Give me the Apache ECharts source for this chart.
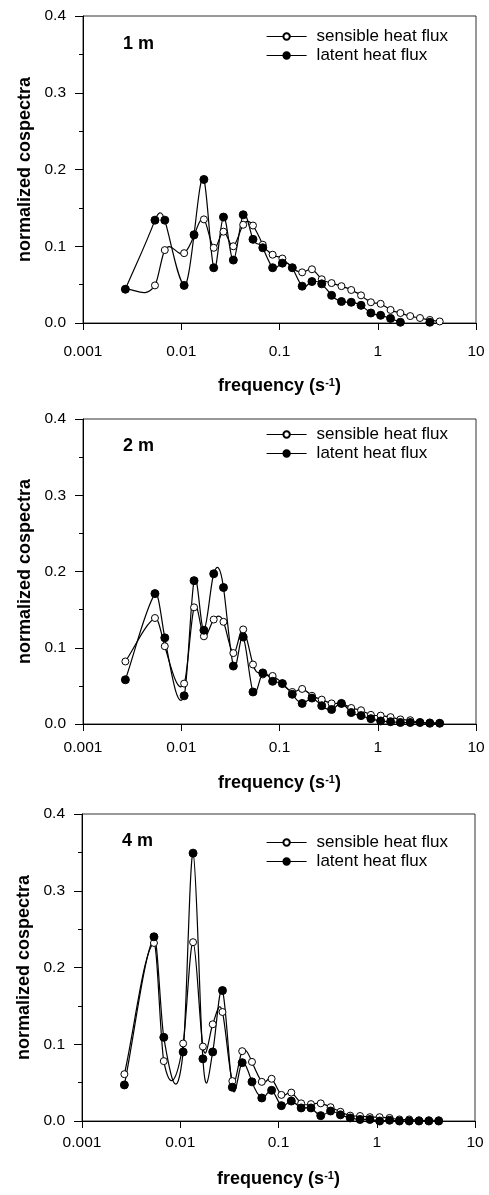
<!DOCTYPE html>
<html>
<head>
<meta charset="utf-8">
<script src="https://cdn.jsdelivr.net/npm/echarts@6/dist/echarts.min.js"></script>
<style>
html,body{margin:0;padding:0;background:#fff;}
#main{width:489px;height:1195px;}
</style>
</head>
<body>
<div id="main"></div>
<script>
// frequencies (s^-1), shared by all panels
var freq = [0.0027, 0.0054, 0.0068, 0.0107, 0.0135, 0.0170, 0.0214, 0.0269, 0.0339, 0.0427,
            0.0537, 0.0676, 0.0851, 0.107, 0.135, 0.170, 0.214, 0.269, 0.339, 0.427,
            0.537, 0.676, 0.851, 1.07, 1.35, 1.70, 2.14, 2.69, 3.39, 4.27];

// 1 m
var sensible1m = [0.044, 0.049, 0.095, 0.091, 0.114, 0.135, 0.098, 0.119, 0.100, 0.128,
                  0.127, 0.102, 0.089, 0.084, 0.072, 0.066, 0.070, 0.057, 0.052, 0.048,
                  0.043, 0.036, 0.027, 0.025, 0.017, 0.013, 0.009, 0.0065, 0.004, 0.002];
var latent1m   = [0.044, 0.134, 0.134, 0.049, 0.115, 0.187, 0.072, 0.138, 0.082, 0.141,
                  0.109, 0.098, 0.072, 0.078, 0.072, 0.048, 0.054, 0.051, 0.036, 0.028,
                  0.027, 0.023, 0.013, 0.010, 0.006, 0.001, -0.002, -0.002, 0.001, null];
// 2 m
var sensible2m = [0.082, 0.139, 0.102, 0.053, 0.153, 0.115, 0.137, 0.134, 0.093, 0.124,
                  0.078, 0.065, 0.063, 0.053, 0.042, 0.046, 0.037, 0.032, 0.027, 0.027,
                  0.021, 0.018, 0.012, 0.011, 0.009, 0.006, 0.005, 0.002, 0.002, 0.001];
var latent2m   = [0.058, 0.171, 0.113, 0.037, 0.188, 0.123, 0.197, 0.179, 0.076, 0.114,
                  0.042, 0.067, 0.056, 0.053, 0.039, 0.027, 0.034, 0.024, 0.019, 0.027,
                  0.015, 0.011, 0.007, 0.004, 0.003, 0.002, 0.002, 0.002, 0.001, 0.001];
// 4 m
var sensible4m = [0.061, 0.232, 0.078, 0.101, 0.233, 0.097, 0.126, 0.142, 0.052, 0.091,
                  0.077, 0.051, 0.055, 0.034, 0.037, 0.023, 0.022, 0.023, 0.018, 0.012,
                  0.007, 0.0065, 0.005, 0.005, 0.004, 0.002, 0.002, 0.001, 0.001, 0.001];
var latent4m   = [0.047, 0.240, 0.109, 0.090, 0.349, 0.081, 0.090, 0.170, 0.044, 0.076,
                  0.051, 0.030, 0.040, 0.020, 0.026, 0.017, 0.017, 0.007, 0.013, 0.008,
                  0.004, 0.002, 0.002, 0.000, 0.001, 0.000, 0.000, 0.000, 0.000, 0.000];

var xTickLabels = ['0.001', '0.01', '0.1', '1', '10'];
var yTickLabels = ['0.0', '0.1', '0.2', '0.3', '0.4'];
var panelLabels = ['1 m', '2 m', '4 m'];
var seriesNames = ['sensible heat flux', 'latent heat flux'];
var yTitle = 'normalized cospectra';
var xTitle = 'frequency (s{sup|-1})';

var FONT = '"Liberation Sans", Arial, Helvetica, sans-serif';
var TENSION = 1.5;

var panels = [
  {sens: sensible1m, lat: latent1m, grid: {left: 83, top: 16, width: 393, height: 307},
   labelTop: 35, legendTop: 22, xMargin: 21, xNameGap: 54},
  {sens: sensible2m, lat: latent2m, grid: {left: 83, top: 419, width: 393, height: 305},
   labelTop: 437, legendTop: 420, xMargin: 16, xNameGap: 50},
  {sens: sensible4m, lat: latent4m, grid: {left: 82, top: 814, width: 393, height: 307},
   labelTop: 832, legendTop: 828, xMargin: 14, xNameGap: 49}
];

function pairs(xs, ys) {
  var out = [];
  for (var i = 0; i < xs.length; i++) out.push([xs[i], ys[i]]);
  return out;
}

// cubic Hermite curve through pixel points (y as a function of x), as Bezier path
function splinePath(pts) {
  var n = pts.length, i;
  if (n < 2) return '';
  var m = new Array(n);
  m[0] = (pts[1][1] - pts[0][1]) / (pts[1][0] - pts[0][0]);
  m[n - 1] = (pts[n - 1][1] - pts[n - 2][1]) / (pts[n - 1][0] - pts[n - 2][0]);
  for (i = 1; i < n - 1; i++) {
    m[i] = TENSION * (pts[i + 1][1] - pts[i - 1][1]) / (pts[i + 1][0] - pts[i - 1][0]);
  }
  var p = 'M' + pts[0][0] + ' ' + pts[0][1];
  for (i = 0; i < n - 1; i++) {
    var h = pts[i + 1][0] - pts[i][0];
    var c1x = pts[i][0] + h / 3, c1y = pts[i][1] + m[i] * h / 3;
    var c2x = pts[i + 1][0] - h / 3, c2y = pts[i + 1][1] - m[i + 1] * h / 3;
    p += 'C' + c1x + ' ' + c1y + ' ' + c2x + ' ' + c2y + ' ' + pts[i + 1][0] + ' ' + pts[i + 1][1];
  }
  return p;
}

function curveRenderer(ys) {
  return function (params, api) {
    var pts = [];
    for (var j = 0; j < freq.length; j++) {
      if (ys[j] !== null && ys[j] !== undefined) pts.push(api.coord([freq[j], ys[j]]));
    }
    return {
      type: 'path', silent: true,
      shape: {pathData: splinePath(pts)},
      style: {fill: 'none', stroke: '#000', lineWidth: 1.2}
    };
  };
}

var grids = [], xAxes = [], yAxes = [], series = [], legends = [], graphics = [];
panels.forEach(function (p, i) {
  grids.push(Object.assign({show: true, borderColor: '#333', borderWidth: 1, containLabel: false}, p.grid));
  xAxes.push({
    type: 'log', logBase: 10, min: 0.001, max: 10, gridIndex: i,
    name: xTitle, nameLocation: 'middle', nameGap: p.xNameGap,
    nameTextStyle: {fontFamily: FONT, fontSize: 18, fontWeight: 'bold', color: '#000',
      rich: {sup: {fontFamily: FONT, fontSize: 11, fontWeight: 'bold', color: '#000', verticalAlign: 'top', padding: [0, 0, 6, 0]}}},
    axisLine: {lineStyle: {color: '#000', width: 1}},
    axisTick: {show: true, inside: false, length: 7, lineStyle: {color: '#000'}},
    splitLine: {show: false},
    axisLabel: {fontFamily: FONT, fontSize: 15.5, color: '#000', margin: p.xMargin,
      formatter: function (v) {
        var k = Math.round(Math.log10(v)) + 3;
        return xTickLabels[k] !== undefined ? xTickLabels[k] : '';
      }}
  });
  yAxes.push({
    type: 'value', min: 0, max: 0.4, interval: 0.1, gridIndex: i,
    name: yTitle, nameLocation: 'middle', nameGap: 47, nameRotate: 90,
    nameTextStyle: {fontFamily: FONT, fontSize: 18, fontWeight: 'bold', color: '#000'},
    axisLine: {show: true, lineStyle: {color: '#000', width: 1}},
    axisTick: {show: true, inside: false, length: 8, lineStyle: {color: '#000'}},
    minorTick: {show: true, splitNumber: 2, length: 4, lineStyle: {color: '#000'}},
    splitLine: {show: false},
    axisLabel: {fontFamily: FONT, fontSize: 15.5, color: '#000', margin: 17,
      formatter: function (v) { return yTickLabels[Math.round(v * 10)]; }}
  });
  // smooth curves through the data points
  series.push({
    type: 'custom', xAxisIndex: i, yAxisIndex: i, clip: true, silent: true, z: 1,
    data: [[freq[0], p.sens[0]]], renderItem: curveRenderer(p.sens)
  });
  series.push({
    type: 'custom', xAxisIndex: i, yAxisIndex: i, clip: true, silent: true, z: 1,
    data: [[freq[0], p.lat[0]]], renderItem: curveRenderer(p.lat)
  });
  // markers
  series.push({
    name: seriesNames[0], type: 'line', xAxisIndex: i, yAxisIndex: i,
    data: pairs(freq, p.sens), symbol: 'circle', symbolSize: 7,
    lineStyle: {color: '#000', width: 1.2, opacity: 0},
    itemStyle: {color: '#fff', borderColor: '#000', borderWidth: 1},
    emphasis: {disabled: true}, z: 2
  });
  series.push({
    name: seriesNames[1], type: 'line', xAxisIndex: i, yAxisIndex: i,
    data: pairs(freq, p.lat), symbol: 'circle', symbolSize: 8,
    lineStyle: {color: '#000', width: 1.2, opacity: 0},
    itemStyle: {color: '#000', borderColor: '#000', borderWidth: 1},
    emphasis: {disabled: true}, z: 3
  });
  legends.push({
    orient: 'vertical', left: 261, top: p.legendTop, itemWidth: 40, itemHeight: 8, itemGap: 0,
    data: seriesNames, selectedMode: false,
    lineStyle: {color: '#000', width: 1.2, opacity: 1},
    textStyle: {fontFamily: FONT, fontSize: 17, color: '#000', lineHeight: 19, padding: [0, 0, 0, 5]}
  });
  graphics.push({
    type: 'text', left: p.grid.left + 40, top: p.labelTop,
    style: {text: panelLabels[i], font: 'bold 18px ' + FONT, fill: '#000'}
  });
});

var chart = echarts.init(document.getElementById('main'), null, {renderer: 'canvas'});
chart.setOption({
  animation: false,
  backgroundColor: '#fff',
  grid: grids,
  xAxis: xAxes,
  yAxis: yAxes,
  legend: legends,
  series: series,
  graphic: graphics
});
</script>
</body>
</html>
